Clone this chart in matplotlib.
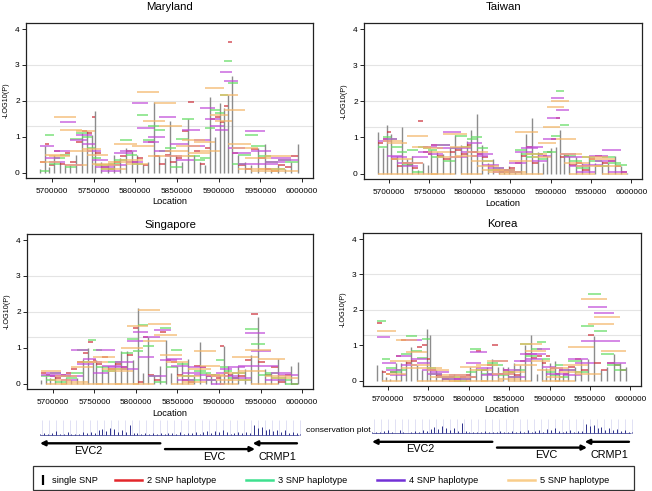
import numpy as np
import matplotlib.pyplot as plt
from matplotlib.lines import Line2D
from matplotlib.patches import Rectangle

plt.rcParams['font.family'] = ['Liberation Sans', 'DejaVu Sans']

W, H = 652, 491

# SNP locations (kb) used in all four samples
snp_kb = [5686, 5692, 5697, 5703, 5710, 5716, 5722, 5729, 5736, 5742,
          5748, 5752, 5759, 5767, 5775, 5782, 5789, 5796, 5802, 5809,
          5815, 5822, 5829, 5836, 5842, 5849, 5856, 5863, 5870, 5877,
          5884, 5890, 5896, 5901, 5906, 5911, 5916, 5923, 5931, 5939,
          5947, 5955, 5963, 5971, 5979, 5987, 5995]

# -log10(p) of single SNPs and of sliding 2..5 SNP haplotypes (start at each SNP)
md_snp = [0.1, 0.75, 0.15, 0.5, 0.3, 0.25, 0.2, 0.5, 1.1, 1.15,
          1.05, 1.72, 0.3, 0.2, 0.5, 0.4, 0.7, 0.6, 0.5, 0.2,
          0.3, 1.97, 0.5, 0.4, 1.45, 0.5, 0.3, 1.5, 0.5, 0.3,
          0.2, 2.1, 1.0, 1.95, 1.8, 2.17, 2.7, 0.5, 0.3, 0.2,
          0.7, 0.8, 0.1, 0.2, 0.1, 0.3, 0.8]
md_hap2 = [0.3, 0.8, 0.2, 0.6, 0.25, 0.55, 0.3, 0.85, 1.15, 1.1,
           1.55, 0.55, 0.15, 0.1, 0.3, 0.45, 0.6, 0.3, 0.4, 0.2,
           0.85, 0.45, 0.25, 0.5, 0.3, 0.4, 1.15, 1.97, 0.6, 0.25,
           0.7, 1.5, 1.55, 1.4, 1.85, 3.65, 0.55, 0.2, 0.1, 0.65,
           0.4, 0.1, 0.05, 0.2, 0.15, 0.45]
md_hap3 = [0.05, 1.05, 0.25, 0.4, 0.5, 0.15, 0.95, 1.1, 1.0, 0.7,
           0.4, 0.2, 0.1, 0.25, 0.35, 0.9, 0.5, 0.25, 1.6, 0.9,
           1.3, 1.2, 0.6, 0.7, 0.15, 0.95, 1.5, 0.45, 0.35, 0.4,
           1.25, 1.75, 1.65, 2.15, 3.1, 2.5, 0.25, 0.5, 1.05, 0.75,
           0.45, 0.3, 0.1, 0.35, 0.3]
md_hap4 = [0.75, 0.4, 0.3, 0.6, 1.4, 0.2, 0.9, 1.05, 0.8, 0.6,
           0.35, 0.15, 0.05, 0.2, 0.55, 0.6, 0.3, 1.95, 1.25, 0.85,
           1.0, 0.6, 1.55, 0.45, 0.8, 0.35, 1.2, 0.75, 0.9, 1.8,
           1.5, 1.3, 1.2, 2.8, 2.55, 0.7, 0.55, 0.25, 1.15, 0.6,
           0.25, 0.3, 0.4, 0.35]
md_hap5 = [0.3, 0.5, 0.45, 1.55, 1.2, 0.2, 0.6, 1.15, 0.65, 0.5,
           0.25, 0.2, 0.1, 0.3, 0.8, 0.35, 0.25, 0.75, 2.25, 1.45,
           0.45, 1.95, 1.3, 0.6, 0.45, 0.75, 0.9, 0.55, 0.85, 0.6,
           2.35, 1.6, 1.45, 2.15, 1.75, 0.8, 0.7, 0.1, 0.4, 0.05,
           0.1, 0.45, 0.05]

tw_snp = [1.15, 0.7, 1.35, 1.1, 0.5, 1.28, 0.4, 0.5, 0.1, 0.3,
          0.25, 0.65, 0.6, 0.55, 0.7, 1.08, 0.8, 0.9, 1.2, 1.65,
          0.8, 0.3, 0.4, 0.15, 0.1, 0.2, 0.05, 0.6, 1.1, 1.55,
          0.6, 0.3, 0.5, 0.7, 0.75, 1.2, 0.55, 0.5, 0.45, 0.3,
          0.5, 0.3, 0.35, 0.3, 0.5, 0.2, 0.02]
tw_hap2 = [0.85, 0.95, 1.15, 0.4, 0.2, 0.3, 0.25, 0.15, 1.45, 0.6,
           0.55, 0.8, 0.5, 0.4, 0.6, 0.65, 0.55, 0.8, 0.6, 0.55,
           0.45, 0.2, 0.1, 0.05, 0.1, 0.15, 0.3, 0.5, 0.75, 0.3,
           0.55, 0.5, 0.6, 0.95, 1.55, 0.45, 0.5, 0.25, 0.3, 0.1,
           0.4, 0.5, 0.3, 0.35, 0.2, 0.05]
tw_hap3 = [0.75, 1.0, 0.95, 0.75, 0.6, 0.25, 0.65, 0.05, 0.75, 0.7,
           0.65, 0.45, 0.8, 0.35, 0.7, 1.05, 0.75, 0.95, 1.0, 0.7,
           0.35, 0.1, 0.15, 0.05, 0.1, 0.05, 0.65, 0.55, 0.45, 0.55,
           0.4, 0.6, 0.6, 1.05, 2.28, 1.35, 0.5, 0.35, 0.15, 0.45,
           0.35, 0.2, 0.45, 0.3, 0.25]
tw_hap4 = [0.9, 0.95, 0.5, 0.45, 0.3, 0.2, 0.3, 0.45, 0.6, 0.75,
           0.55, 0.8, 0.7, 1.15, 0.45, 0.7, 0.6, 0.85, 0.5, 0.55,
           0.25, 0.15, 0.05, 0.1, 0.05, 0.3, 0.6, 0.7, 0.75, 0.35,
           0.5, 0.95, 1.55, 2.1, 1.75, 0.55, 0.45, 0.2, 0.05, 0.25,
           0.5, 0.35, 0.65, 0.05]
tw_hap5 = [0.0, 0.9, 0.85, 0.4, 0.0, 0.3, 1.05, 0.75, 0.0, 0.7,
           0.6, 0.0, 0.45, 1.1, 0.75, 0.5, 0.0, 0.6, 0.35, 0.2,
           0.1, 0.05, 0.1, 0.0, 0.05, 0.35, 1.15, 0.0, 0.55, 0.45,
           0.85, 1.3, 1.85, 2.0, 0.95, 0.55, 0.3, 0.0, 0.2, 0.45,
           0.4, 0.2, 0.0]

sg_snp = [0.1, 0.2, 0.15, 0.2, 0.1, 0.15, 0.1, 0.15, 0.7, 1.0,
          0.6, 0.65, 0.5, 0.5, 0.6, 0.9, 0.9, 0.65, 2.12, 0.3,
          1.3, 0.25, 0.5, 1.22, 0.3, 0.5, 0.6, 0.7, 0.2, 1.15,
          0.3, 0.2, 0.1, 0.25, 1.05, 0.5, 0.3, 0.5, 0.4, 0.8,
          1.85, 0.4, 0.3, 0.7, 0.2, 0.5, 0.6]
sg_hap2 = [0.3, 0.25, 0.2, 0.15, 0.25, 0.3, 0.4, 0.6, 0.85, 1.15,
           0.65, 0.55, 0.75, 0.4, 0.55, 0.45, 0.8, 1.55, 0.05, 1.3,
           0.25, 0.1, 1.45, 0.65, 0.6, 0.25, 0.1, 0.05, 0.5, 0.45,
           0.2, 0.25, 0.15, 1.05, 0.3, 0.25, 0.15, 0.2, 0.65, 1.95,
           0.6, 0.25, 0.45, 0.05, 0.25, 0.0]
sg_hap3 = [0.2, 0.1, 0.3, 0.05, 0.2, 0.15, 0.3, 0.95, 0.6, 1.22,
           0.95, 0.45, 0.35, 0.6, 0.4, 0.85, 1.25, 0.9, 1.62, 1.05,
           0.2, 0.05, 1.55, 0.45, 0.95, 0.55, 0.2, 0.1, 0.35, 0.3,
           0.1, 0.25, 0.65, 0.45, 0.35, 0.15, 0.3, 0.1, 1.52, 1.1,
           0.25, 0.3, 0.15, 0.1, 0.0]
sg_hap4 = [0.25, 0.3, 0.2, 0.25, 0.1, 0.2, 0.95, 0.55, 0.7, 0.6,
           0.3, 0.95, 0.5, 0.45, 0.6, 0.4, 1.2, 1.45, 0.75, 1.3,
           0.2, 1.5, 0.65, 0.7, 0.5, 0.1, 0.3, 0.45, 0.25, 0.1,
           0.2, 0.0, 0.3, 0.4, 0.2, 0.45, 0.15, 0.5, 1.4, 0.9,
           0.5, 0.1, 0.3, 0.25]
sg_hap5 = [0.35, 0.0, 0.1, 0.2, 0.0, 0.05, 0.45, 0.6, 0.0, 0.6,
           0.75, 0.0, 0.4, 0.35, 0.0, 1.0, 1.6, 0.0, 2.05, 1.2,
           1.65, 1.35, 0.8, 0.6, 0.0, 0.2, 0.05, 0.4, 0.9, 0.5,
           0.25, 0.2, 0.1, 0.0, 0.3, 0.1, 0.75, 0.35, 0.95, 0.0,
           0.7, 0.2, 0.15]

kr_snp = [0.45, 0.3, 0.1, 0.05, 0.5, 0.5, 0.55, 0.95, 0.45, 0.3,
          1.47, 1.3, 0.3, 0.1, 0.05, 0.2, 0.1, 0.05, 0.4, 0.35,
          0.3, 0.4, 0.6, 0.4, 0.4, 0.4, 0.5, 0.45, 1.0, 1.3,
          0.2, 0.6, 0.35, 0.5, 0.55, 0.3, 0.2, 0.35, 0.4, 0.6,
          0.6, 1.25, 0.3, 0.4, 0.75, 0.5, 0.4]
kr_hap2 = [1.62, 0.25, 0.2, 0.25, 0.7, 1.15, 0.5, 0.55, 0.95, 1.0,
           0.6, 0.3, 0.15, 0.05, 0.1, 0.05, 0.1, 0.15, 0.1, 0.85,
           0.3, 0.45, 1.0, 0.2, 0.3, 0.25, 0.15, 0.55, 0.75, 0.65,
           0.7, 0.5, 0.7, 0.35, 0.2, 0.3, 0.2, 0.4, 0.6, 0.3,
           1.3, 0.5, 0.3, 0.5, 0.45, 0.3]
kr_hap3 = [1.68, 0.6, 0.35, 0.25, 0.3, 0.75, 1.25, 0.85, 0.65, 1.18,
           0.35, 0.2, 0.1, 0.05, 0.1, 0.0, 0.05, 0.25, 0.9, 0.3,
           0.2, 0.5, 0.45, 0.15, 0.25, 0.1, 0.3, 1.05, 0.7, 0.9,
           1.1, 0.6, 0.25, 0.15, 0.45, 0.1, 0.3, 0.55, 0.25, 1.55,
           2.45, 1.4, 0.75, 0.45, 0.3]
kr_hap4 = [1.22, 0.5, 0.3, 0.15, 0.7, 0.45, 1.15, 0.6, 0.5, 0.3,
           0.2, 0.25, 0.1, 0.05, 0.15, 0.05, 0.1, 0.5, 0.8, 0.35,
           0.15, 0.2, 0.55, 0.2, 0.3, 0.1, 0.55, 0.75, 0.6, 0.75,
           0.9, 0.4, 0.2, 0.35, 0.2, 0.3, 0.15, 0.6, 0.5, 1.12,
           2.08, 1.9, 1.12, 0.5]
kr_hap5 = [1.4, 0.0, 0.2, 0.55, 1.15, 0.35, 0.8, 0.45, 0.0, 0.35,
           0.3, 0.1, 0.0, 0.15, 0.0, 0.1, 0.4, 0.0, 0.3, 0.45,
           0.0, 0.55, 0.2, 0.05, 0.25, 0.0, 0.45, 1.05, 0.85, 0.55,
           0.3, 0.0, 0.1, 0.35, 0.0, 0.25, 0.45, 0.95, 0.2, 2.32,
           1.6, 1.8, 0.85]

# genes (kb) and strand, for the track under the plots
gene_names = ['EVC2', 'EVC', 'CRMP1']
gene_start = [5564, 5725, 5838]
gene_end = [5719, 5841, 5895]
gene_strand = [-1, 1, -1]
gene_row = [0, 1, 0]
gene_label_row = [0, 1, 1]
gene_label_kb = [5626, 5789, 5870]

# conservation score in 5 kb bins from 5562 kb
cons_val = [0.1, 0.15, 0.1, 0.2, 0.35, 0.1, 0.05, 0.3, 0.1, 0.05,
            0.1, 0.25, 0.15, 0.3, 0.2, 0.45, 0.6, 0.4, 0.7, 0.55,
            0.3, 0.5, 0.25, 1.0, 0.2, 0.15, 0.1, 0.15, 0.1, 0.2,
            0.1, 0.15, 0.1, 0.2, 0.15, 0.1, 0.25, 0.1, 0.2, 0.15,
            0.3, 0.1, 0.25, 0.35, 0.15, 0.4, 0.3, 0.5, 0.25, 0.1,
            0.2, 0.3, 0.15, 0.25, 0.2, 0.95, 0.7, 0.8, 0.5, 0.6,
            0.35, 0.5, 0.3, 0.45, 0.2, 0.3, 0.15, 0.1]

legend_labels = ['single SNP', '2 SNP haplotype', '3 SNP haplotype',
                 '4 SNP haplotype', '5 SNP haplotype']

hap_colors = ['#cc2f3a', '#62dc62', '#c04ad8', '#f3b566']
legend_colors = ['#e3262b', '#3ee08f', '#7331d6', '#f9cd8a']


def px_rect(l, t, r, b):
    return [l / W, 1 - b / H, (r - l) / W, (b - t) / H]


fig = plt.figure(figsize=(W / 100, H / 100), dpi=100)


def panel(box, name, snp, haps, tpad):
    ax = fig.add_axes(px_rect(*box))
    pos = np.array(snp_kb) * 1000
    for y in (1.3, 2, 3):
        ax.axhline(y, color='#e4e4e4', lw=0.8, zorder=0)
    ax.vlines(pos, 0, snp, color='#8c8c8c', lw=1.0, zorder=1)
    for k, vals in enumerate(haps):
        n = k + 2
        st = pos[:len(pos) - n + 1][:len(vals)]
        en = pos[n - 1:][:len(vals)]
        ax.hlines(vals, st, en, color=hap_colors[k], lw=1.15, alpha=0.8, zorder=2)
    ax.set_xlim(5669000, 6013000)
    ax.set_ylim(-0.15, 4.17)
    ticks = np.arange(5700000, 6000001, 50000)
    ax.set_xticks(ticks)
    ax.set_xticklabels([str(t) for t in ticks])
    ax.set_yticks([0, 1, 2, 3, 4])
    ax.tick_params(axis='x', labelsize=5.9, length=3, width=0.6, pad=4)
    ax.tick_params(axis='y', labelsize=6, length=3, width=0.6, pad=1.5)
    for s in ax.spines.values():
        s.set_color('#222222')
        s.set_linewidth(0.9)
    ax.set_title(name, fontsize=8.2, pad=tpad)
    ax.set_xlabel('Location', fontsize=6.7, labelpad=2)
    ax.set_ylabel('-LOG10(P)', fontsize=5.2, labelpad=4)
    return ax


panel((26, 23, 313, 178), 'Maryland', md_snp, [md_hap2, md_hap3, md_hap4, md_hap5], 9)
panel((364, 23, 642, 179), 'Taiwan', tw_snp, [tw_hap2, tw_hap3, tw_hap4, tw_hap5], 9)
panel((27, 234, 313, 389), 'Singapore', sg_snp, [sg_hap2, sg_hap3, sg_hap4, sg_hap5], 4.3)
panel((363, 233, 641, 386), 'Korea', kr_snp, [kr_hap2, kr_hap3, kr_hap4, kr_hap5], 4.3)


def track(box):
    ax = fig.add_axes(px_rect(*box))
    ax.set_xlim(5562.7, 5901.5)
    ax.set_ylim(44, 0)
    ax.axis('off')
    base = 16.7
    ax.vlines(np.arange(5566, 5900, 9), 2, base, color='#dcdcf2', lw=0.6)
    ax.hlines(base, 5564, 5898, color='#2b2f8a', lw=0.5)
    cons_kb = np.arange(5562, 5562 + 5 * len(cons_val), 5) + 2.5
    ax.vlines(cons_kb, base, base - 10 * np.array(cons_val), color='#2b2f8a', lw=0.7)
    for nm, s, e, sd, r, lr, lx in zip(gene_names, gene_start, gene_end, gene_strand,
                                         gene_row, gene_label_row, gene_label_kb):
        y = 25.3 + 5.8 * r
        a, b = (e, s) if sd < 0 else (s, e)
        ax.annotate('', xy=(b, y), xytext=(a, y),
                    arrowprops=dict(arrowstyle='-|>', color='black', lw=1.7,
                                    mutation_scale=7, shrinkA=0, shrinkB=0))
        ax.text(lx, 25.3 + 5.8 * lr + 7.7, nm, fontsize=7.8, ha='center', va='center')
    return ax


track((39, 418, 302, 462))
track((371, 416.5, 634, 460.5))
fig.text(305.7 / W, 1 - 430 / H, 'conservation plot', fontsize=6.1, va='center', ha='left')

# legend
fig.patches.append(Rectangle((33.3 / W, 1 - 490 / H), (634 - 33.3) / W, 24 / H,
                             transform=fig.transFigure, fill=False,
                             ec='#333333', lw=0.9))
ly = 1 - 480.7 / H
h0 = [Line2D([], [], color='black', marker='|', linestyle='None',
             markersize=6.5, markeredgewidth=1.6)]
fig.legend(h0, legend_labels[:1], loc='center left', bbox_to_anchor=(39 / W, ly),
           frameon=False, fontsize=6.7, handlelength=0.9, handletextpad=0.5,
           borderpad=0, borderaxespad=0)
h1 = [Line2D([], [], color=c, lw=1.8) for c in legend_colors]
fig.legend(h1, legend_labels[1:], loc='center left', bbox_to_anchor=(115 / W, ly),
           frameon=False, fontsize=6.7, ncol=4, handlelength=2.9,
           handletextpad=0.55, columnspacing=3.2, borderpad=0, borderaxespad=0)

fig.savefig('out.png', dpi=100)
